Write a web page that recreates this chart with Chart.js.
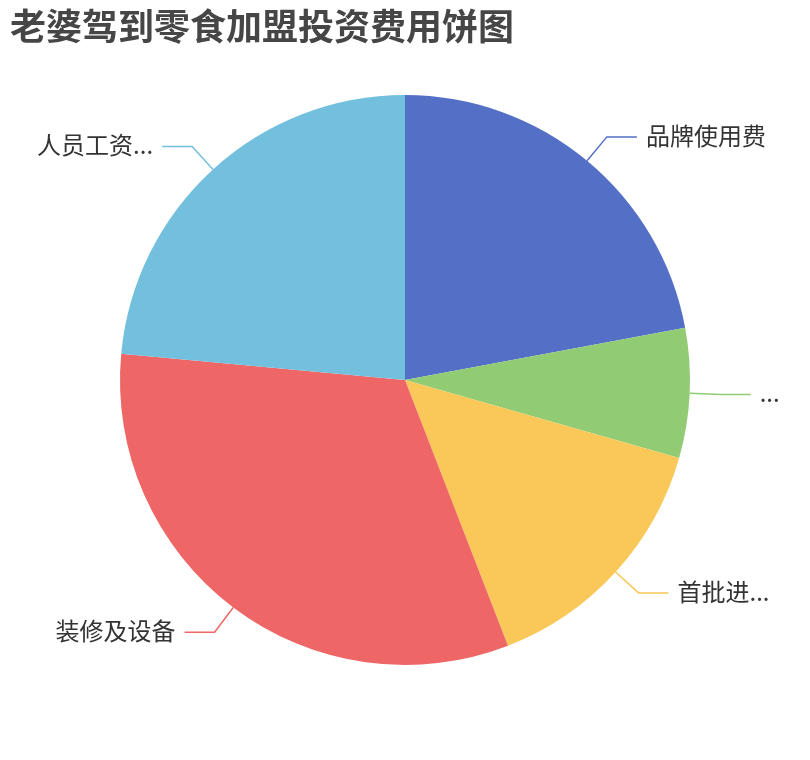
<!DOCTYPE html>
<html>
<head>
<meta charset="utf-8">
<script src="https://cdn.jsdelivr.net/npm/chart.js@4/dist/chart.umd.min.js"></script>
<style>
  html, body { margin: 0; padding: 0; background: #fff; }
  #pie { display: block; }
</style>
</head>
<body>
<canvas id="pie" width="810" height="760"></canvas>
<script>
const names = ["品牌使用费", "加盟保证金", "首批进货费用", "装修及设备", "人员工资费用"];
const amounts = [1.5, 0.5, 1, 2.2, 1.6];
const sliceColors = ["#5470c6", "#91cc75", "#fac858", "#ee6666", "#73c0de"];

const labelFont = "24px 'Noto Sans CJK SC', 'Noto Sans', sans-serif";

// cut the label with "..." when it runs past the edge
function fitText(ctx, text, maxW) {
  if (ctx.measureText(text).width <= maxW) return text;
  for (let n = text.length - 1; n > 0; n--) {
    const t = text.slice(0, n) + "...";
    if (ctx.measureText(t).width <= maxW) return t;
  }
  return "...";
}

const pieLabels = {
  id: "pieLabels",
  afterDraw(chart) {
    const ctx = chart.ctx;
    const arcs = chart.getDatasetMeta(0).data;
    ctx.save();
    ctx.font = labelFont;
    ctx.lineWidth = 1.5;
    arcs.forEach((arc, i) => {
      const { x, y, startAngle, endAngle, outerRadius } = arc.getProps(["x", "y", "startAngle", "endAngle", "outerRadius"], true);
      const mid = (startAngle + endAngle) / 2;
      const cos = Math.cos(mid), sin = Math.sin(mid);
      const right = cos >= 0;
      const p1 = [x + outerRadius * cos, y + outerRadius * sin];
      const p2 = [x + (outerRadius + 31) * cos, y + (outerRadius + 31) * sin];
      const p3 = [p2[0] + (right ? 30 : -30), p2[1]];
      ctx.strokeStyle = sliceColors[i];
      ctx.beginPath();
      ctx.moveTo(p1[0], p1[1]);
      ctx.lineTo(p2[0], p2[1]);
      ctx.lineTo(p3[0], p3[1]);
      ctx.stroke();

      ctx.fillStyle = "#333";
      ctx.textBaseline = "middle";
      const ty = p3[1] - 1.5;
      if (right) {
        const tx = p3[0] + 9;
        ctx.textAlign = "left";
        ctx.fillText(fitText(ctx, names[i], 785 - tx), tx, ty);
      } else {
        const tx = p3[0] - 9;
        ctx.textAlign = "right";
        ctx.fillText(fitText(ctx, names[i], tx - 25), tx, ty);
      }
    });
    ctx.restore();
  }
};

new Chart(document.getElementById("pie"), {
  type: "pie",
  data: {
    labels: names,
    datasets: [{
      data: amounts,
      backgroundColor: sliceColors,
      borderWidth: 0
    }]
  },
  options: {
    responsive: false,
    animation: false,
    layout: { padding: { top: 0, bottom: 95, left: 10, right: 10 } },
    plugins: {
      legend: { display: false },
      tooltip: { enabled: false },
      title: {
        display: true,
        text: "老婆驾到零食加盟投资费用饼图",
        align: "start",
        color: "#464646",
        font: { size: 36, weight: "bold", family: "'Noto Sans CJK SC', 'Noto Sans', sans-serif", lineHeight: 1.2 },
        padding: { top: 5, bottom: 46.8 }
      }
    }
  },
  plugins: [pieLabels]
});
</script>
</body>
</html>
